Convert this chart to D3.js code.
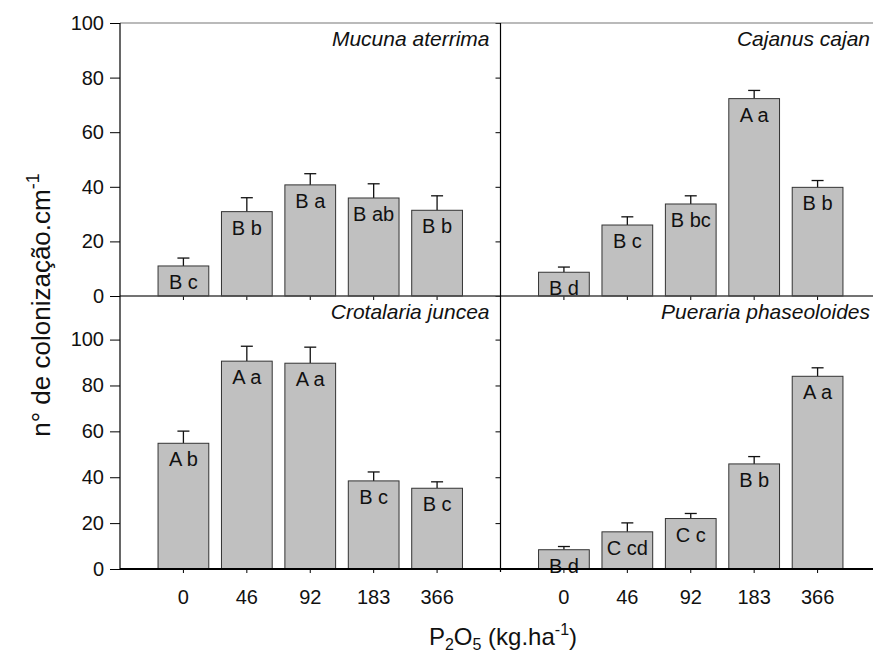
<!DOCTYPE html>
<html>
<head>
<meta charset="utf-8">
<script src="https://cdn.jsdelivr.net/npm/d3@7"></script>
<style>
  body { margin: 0; background: #fff; }
  svg { display: block; font-family: "Liberation Sans", Arial, sans-serif; }
</style>
</head>
<body>
<div id="chart"></div>
<script>
/* DATA */
const doses = ["0", "46", "92", "183", "366"];
const species = ["Mucuna aterrima", "Cajanus cajan", "Crotalaria juncea", "Pueraria phaseoloides"];

const mucunaMean = [11.0, 30.9, 40.7, 35.9, 31.4];
const mucunaErr = [2.9, 5.1, 4.1, 5.2, 5.3];
const mucunaLetters = ["B c", "B b", "B a", "B ab", "B b"];

const cajanusMean = [8.7, 26.0, 33.7, 72.3, 39.8];
const cajanusErr = [1.9, 3.0, 3.0, 3.0, 2.5];
const cajanusLetters = ["B d", "B c", "B bc", "A a", "B b"];

const crotalariaMean = [54.8, 90.6, 89.7, 38.4, 35.2];
const crotalariaErr = [5.3, 6.5, 7.0, 3.9, 2.8];
const crotalariaLetters = ["A b", "A a", "A a", "B c", "B c"];

const puerariaMean = [8.4, 16.2, 22.0, 45.8, 84.0];
const puerariaErr = [1.4, 3.9, 2.2, 3.2, 3.7];
const puerariaLetters = ["B d", "C cd", "C c", "B b", "A a"];

const yTicks = [0, 20, 40, 60, 80, 100];

/* LAYOUT */
const width = 873, height = 655;
const plotLeft = 120, panelW = 380.5;
const plotTop = 23, plotMid = 296, plotBottom = 569;

const svg = d3.select("#chart").append("svg")
  .attr("width", width)
  .attr("height", height);

const yTop = d3.scaleLinear().domain([0, 100]).range([plotMid, plotTop]);
const yBottom = d3.scaleLinear().domain([0, 119]).range([plotBottom, plotMid]);

const panels = [
  { name: species[0], mean: mucunaMean, err: mucunaErr, letters: mucunaLetters, col: 0, y: yTop },
  { name: species[1], mean: cajanusMean, err: cajanusErr, letters: cajanusLetters, col: 1, y: yTop },
  { name: species[2], mean: crotalariaMean, err: crotalariaErr, letters: crotalariaLetters, col: 0, y: yBottom },
  { name: species[3], mean: puerariaMean, err: puerariaErr, letters: puerariaLetters, col: 1, y: yBottom }
];

panels.forEach(p => {
  const x0 = plotLeft + p.col * panelW;
  const x = d3.scaleBand()
    .domain(doses)
    .range([x0, x0 + panelW])
    .paddingInner(0.2)
    .paddingOuter(0.6);
  const y = p.y;
  const base = y(0);
  const rows = doses.map((d, i) => ({ dose: d, mean: p.mean[i], err: p.err[i], label: p.letters[i] }));
  const g = svg.append("g");

  // error bars (drawn first, bar covers the lower part)
  const eb = g.selectAll(".err").data(rows).join("g").attr("class", "err")
    .attr("stroke", "#111").attr("stroke-width", 1.3);
  eb.append("line")
    .attr("x1", d => x(d.dose) + x.bandwidth() / 2)
    .attr("x2", d => x(d.dose) + x.bandwidth() / 2)
    .attr("y1", d => y(d.mean))
    .attr("y2", d => y(d.mean + d.err));
  eb.append("line")
    .attr("x1", d => x(d.dose) + x.bandwidth() / 2 - 6)
    .attr("x2", d => x(d.dose) + x.bandwidth() / 2 + 6)
    .attr("y1", d => y(d.mean + d.err))
    .attr("y2", d => y(d.mean + d.err));

  g.selectAll("rect").data(rows).join("rect")
    .attr("x", d => x(d.dose))
    .attr("width", x.bandwidth())
    .attr("y", d => y(d.mean))
    .attr("height", d => base - y(d.mean))
    .attr("fill", "#c0c0c0")
    .attr("stroke", "#333")
    .attr("stroke-width", 1);

  g.selectAll(".lbl").data(rows).join("text").attr("class", "lbl")
    .attr("x", d => x(d.dose) + x.bandwidth() / 2)
    .attr("y", d => y(d.mean) + 23)
    .attr("text-anchor", "middle")
    .attr("font-size", 20)
    .attr("fill", "#111")
    .text(d => d.label);

  // x axis ticks
  const xAxis = d3.axisBottom(x).tickSize(4).tickSizeOuter(0).tickPadding(17);
  const ax = g.append("g").attr("transform", `translate(0,${base})`).call(xAxis);
  ax.select(".domain").remove();
  ax.selectAll("text").attr("font-size", 20).attr("font-family", "Liberation Sans, Arial, sans-serif").attr("fill", "#111");
  if (y === yTop) ax.selectAll("text").remove();

  // y axis
  const yAxis = d3.axisLeft(y).tickValues(yTicks).tickSizeOuter(0);
  const ay = g.append("g").attr("transform", `translate(${x0},0)`);
  if (p.col === 0) {
    ay.call(yAxis.tickSize(10).tickPadding(6));
    ay.selectAll("text").attr("font-size", 20).attr("font-family", "Liberation Sans, Arial, sans-serif").attr("fill", "#111");
  } else {
    ay.call(yAxis.tickSize(5).tickFormat(""));
  }
  ay.select(".domain").remove();

  // panel title
  g.append("text")
    .attr("x", x0 + panelW - 11)
    .attr("y", (y === yTop ? plotTop : plotMid) + 23)
    .attr("text-anchor", "end")
    .attr("font-size", 21)
    .attr("font-style", "italic")
    .attr("fill", "#111")
    .text(p.name);
});

// frame lines
svg.append("line").attr("x1", plotLeft).attr("x2", width).attr("y1", plotTop).attr("y2", plotTop)
  .attr("stroke", "#777").attr("stroke-width", 1.2);
svg.append("line").attr("x1", plotLeft).attr("x2", width).attr("y1", plotMid).attr("y2", plotMid)
  .attr("stroke", "#444").attr("stroke-width", 1.3);
svg.append("line").attr("x1", plotLeft).attr("x2", width).attr("y1", plotBottom).attr("y2", plotBottom)
  .attr("stroke", "#000").attr("stroke-width", 2);
svg.append("line").attr("x1", plotLeft).attr("x2", plotLeft).attr("y1", plotTop).attr("y2", plotBottom)
  .attr("stroke", "#000").attr("stroke-width", 1.2);
svg.append("line").attr("x1", plotLeft + panelW).attr("x2", plotLeft + panelW).attr("y1", plotTop).attr("y2", plotBottom + 3)
  .attr("stroke", "#000").attr("stroke-width", 1.2);

// axis titles
const yTitle = svg.append("text")
  .attr("transform", "translate(50,305) rotate(-90)")
  .attr("text-anchor", "middle")
  .attr("font-size", 26)
  .attr("fill", "#111");
yTitle.append("tspan").text("n° de colonização.cm");
yTitle.append("tspan").attr("font-size", 18).attr("dy", -11).text("-1");

const xTitle = svg.append("text")
  .attr("x", 503)
  .attr("y", 645)
  .attr("text-anchor", "middle")
  .attr("font-size", 24)
  .attr("fill", "#111");
xTitle.append("tspan").text("P");
xTitle.append("tspan").attr("font-size", 16).attr("dy", 5).text("2");
xTitle.append("tspan").attr("dy", -5).text("O");
xTitle.append("tspan").attr("font-size", 16).attr("dy", 5).text("5");
xTitle.append("tspan").attr("dy", -5).text(" (kg.ha");
xTitle.append("tspan").attr("font-size", 16).attr("dy", -10).text("-1");
xTitle.append("tspan").attr("dy", 10).text(")");
</script>
</body>
</html>
